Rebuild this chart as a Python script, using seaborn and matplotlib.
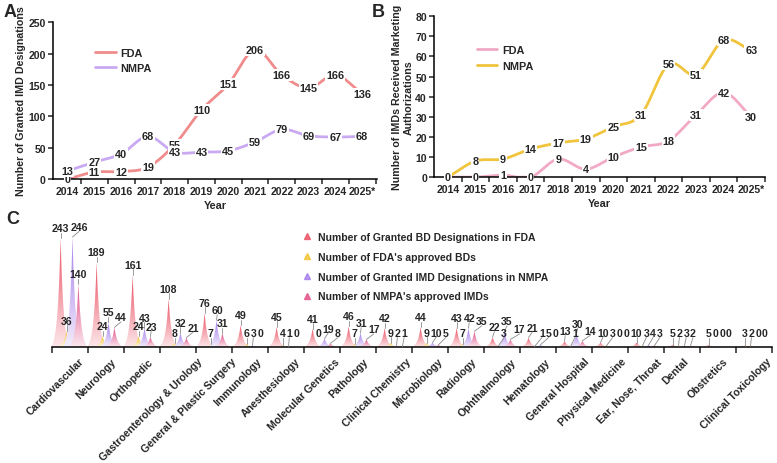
import numpy as np
import pandas as pd
import matplotlib
matplotlib.use('Agg')
import matplotlib.pyplot as plt
import seaborn as sns
from matplotlib.colors import LinearSegmentedColormap, to_rgb
from matplotlib.patches import Polygon
from matplotlib.lines import Line2D
from matplotlib.transforms import ScaledTranslation

# ---- data ----
years = ['2014', '2015', '2016', '2017', '2018', '2019', '2020', '2021',
         '2022', '2023', '2024', '2025*']
fda_designations = [0, 11, 12, 19, 55, 110, 151, 206, 166, 145, 166, 136]
nmpa_designations = [13, 27, 40, 68, 43, 43, 45, 59, 79, 69, 67, 68]
fda_approvals = [0, 0, 1, 0, 9, 4, 10, 15, 18, 31, 42, 30]
nmpa_approvals = [0, 8, 9, 14, 17, 19, 25, 31, 56, 51, 68, 63]

specialties = ['Cardiovascular', 'Neurology', 'Orthopedic', 'Gastroenterology & Urology',
               'General & Plastic Surgery', 'Immunology', 'Anesthesiology',
               'Molecular Genetics', 'Pathology', 'Clinical Chemistry', 'Microbiology',
               'Radiology', 'Ophthalmology', 'Hematology', 'General Hospital',
               'Physical Medicine', 'Ear, Nose, Throat', 'Dental', 'Obstretics',
               'Clinical Toxicology']
bd_fda = [243, 189, 161, 108, 76, 49, 45, 41, 46, 42, 44, 43, 22, 21, 13, 10, 10, 5, 5, 3]
bd_fda_approved = [36, 24, 24, 8, 7, 6, 4, 0, 7, 9, 9, 7, 3, 1, 1, 3, 3, 2, 0, 2]
imd_nmpa = [246, 55, 43, 32, 60, 3, 1, 19, 31, 2, 10, 42, 35, 5, 30, 0, 4, 3, 0, 0]
imd_nmpa_approved = [140, 44, 23, 21, 31, 0, 0, 8, 17, 1, 5, 35, 17, 0, 14, 0, 3, 2, 0, 0]

c_series = ["Number of Granted BD Designations in FDA", "Number of FDA's approved BDs",
            "Number of Granted IMD Designations in NMPA", "Number of NMPA's approved IMDs"]
c_colors = ['#EA4E60', '#F2C22E', '#A47CEA', '#E14E86']

sns.set_theme(style='ticks')
plt.rcParams['font.family'] = ['Liberation Sans', 'DejaVu Sans']
plt.rcParams['font.weight'] = 'bold'
plt.rcParams['axes.labelweight'] = 'bold'
plt.rcParams['font.size'] = 7.5
plt.rcParams['axes.linewidth'] = 1.1
plt.rcParams['axes.edgecolor'] = 'black'


def smooth_curve(vals, n=24):
    # cubic Hermite through the points, only for drawing a smooth line
    y = np.asarray(vals, float)
    m = np.gradient(y)
    t = np.linspace(0, 1, n, endpoint=False)
    h00, h10 = 2*t**3 - 3*t**2 + 1, t**3 - 2*t**2 + t
    h01, h11 = -2*t**3 + 3*t**2, t**3 - t**2
    xs, ys = [], []
    for i in range(len(y) - 1):
        xs.append(i + t)
        ys.append(h00*y[i] + h10*m[i] + h01*y[i+1] + h11*m[i+1])
    xs.append([len(y) - 1]); ys.append([y[-1]])
    return np.concatenate(xs), np.maximum(np.concatenate(ys), 0)


def line_panel(ax, series, names, colors, ymax, ystep, xlim, ylabel, leg_anchor):
    for vals, name, col in zip(series, names, colors):
        xs, ys = smooth_curve(vals)
        df = pd.DataFrame({'x': xs, 'y': ys})
        sns.lineplot(data=df, x='x', y='y', ax=ax, color=col, linewidth=2,
                     label=name, sort=False, zorder=2)
    for vals in series:
        for i, v in enumerate(vals):
            ax.text(i, v, str(v), ha='center', va='center', fontsize=7.8,
                    fontweight='bold', zorder=4, clip_on=False,
                    bbox=dict(fc='white', ec='none', pad=0.6))
    ax.set_xlim(*xlim)
    ax.set_ylim(0, ymax)
    ax.set_yticks(np.arange(0, ymax + 1, ystep))
    ax.set_xticks(np.arange(0.5, len(years), 1))
    ax.set_xticklabels([])
    ax.set_xticks(np.arange(len(years)), minor=True)
    ax.set_xticklabels(years, minor=True)
    ax.tick_params(axis='x', which='minor', length=0, pad=5, labelsize=7.6)
    ax.tick_params(axis='both', which='major', length=3.5, width=1.1,
                   direction='out', labelsize=7.6)
    ax.tick_params(axis='y', pad=1.5)
    ax.set_xlabel('Year', fontsize=7.8, labelpad=3)
    ax.set_ylabel(ylabel, fontsize=7.7, labelpad=1.5)
    sns.despine(ax=ax)
    ax.legend(loc='upper left', bbox_to_anchor=leg_anchor, frameon=False,
              handlelength=1.9, handletextpad=0.4, labelspacing=0.5, fontsize=7.8)


fig = plt.figure(figsize=(7.77, 4.64), dpi=100)

axA = fig.add_axes([0.068, 0.612, 0.417, 0.338])
line_panel(axA, [fda_designations, nmpa_designations], ['FDA', 'NMPA'],
           ['#F08C8C', '#C9AAF2'], 250, 50, (-0.55, 11.55),
           'Number of Granted IMD Designations', (0.1, 0.9))

axB = fig.add_axes([0.5586, 0.616, 0.426, 0.347])
line_panel(axB, [fda_approvals, nmpa_approvals], ['FDA', 'NMPA'],
           ['#F2A9C6', '#F0C43C'], 80, 10, (-0.5, 11.45),
           'Number of IMDs Received Marketing\nAuthorizations', (0.1, 0.88))

# ---- panel C ----
axC = fig.add_axes([0.0669, 0.25, 0.9266, 0.27])
c_values = [bd_fda, bd_fda_approved, imd_nmpa, imd_nmpa_approved]
half, w = 0.26, 0.085
grad = np.linspace(0, 1, 64).reshape(-1, 1)
for k, (vals, col) in enumerate(zip(c_values, c_colors)):
    light = tuple(0.86 + 0.14*c for c in to_rgb(col))
    cmap = LinearSegmentedColormap.from_list(f'g{k}', [light, col])
    for i, v in enumerate(vals):
        if v == 0:
            continue
        cx = i + 0.24 + 0.165*k
        xs = np.linspace(cx - half, cx + half, 121)
        e = np.exp(-np.abs(xs - cx)/w)
        shape = (e - np.exp(-half/w)) / (1 - np.exp(-half/w))
        patch = Polygon(np.column_stack([xs, v*shape]), closed=True,
                        fc='none', ec='none')
        axC.add_patch(patch)
        im = axC.imshow(grad, extent=[cx - half, cx + half, 0, v], origin='lower',
                        aspect='auto', cmap=cmap, zorder=2 + 0.1*k,
                        interpolation='bilinear')
        im.set_clip_path(patch)

# value labels, laid out in pixels to avoid collisions
PX_X, PX_Y = 36.0, 0.4475
placed = []
for i in range(len(specialties)):
    for k in range(4):
        v = c_values[k][i]
        px = (i + 0.24 + 0.165*k) * PX_X
        tip = v * PX_Y
        tw, th = 5.8*len(str(v)) + 0.5, 8.5
        lx, ly = px, max(tip + 10, 14)
        moved = True
        while moved:
            moved = False
            for ox, oy, ow in placed:
                if abs(ly - oy) < th and abs(lx - ox) < (tw + ow)/2:
                    lx = ox + (tw + ow)/2 + 0.5
                    moved = True
        placed.append((lx, ly, tw))
        axC.text(lx/PX_X, ly/PX_Y, str(v), ha='center', va='center', fontsize=7.6,
                 fontweight='bold', zorder=5, clip_on=False)
        if v > 0 and ((ly - 4.5 - tip) > 5 or abs(lx - px) > 5):
            axC.plot([px/PX_X, lx/PX_X], [tip/PX_Y, (ly - 4.5)/PX_Y], color='#8a8a8a',
                     lw=0.6, zorder=4, clip_on=False)

axC.set_xlim(0, len(specialties))
axC.set_ylim(0, 280)
axC.set_yticks([])
axC.set_xticks(np.arange(0, len(specialties) + 1))
axC.set_xticklabels([])
axC.set_xticks(np.arange(len(specialties)) + 0.5, minor=True)
axC.set_xticklabels(specialties, minor=True, rotation=45, ha='right',
                    rotation_mode='anchor', fontsize=7.6, fontweight='bold')
axC.tick_params(axis='x', which='minor', length=0, pad=6.5)
axC.tick_params(axis='x', which='major', length=4, width=1.1, direction='out')
sns.despine(ax=axC, left=True)

# longer labels sit further to the right in the reference
fig.canvas.draw()
for lab in axC.get_xticklabels(minor=True):
    wpx = lab.get_window_extent().width
    dx = (0.23*wpx - 5) / fig.dpi
    lab.set_transform(lab.get_transform() + ScaledTranslation(dx, 0, fig.dpi_scale_trans))

handles = [Line2D([], [], marker='^', color=c, linestyle='none', markersize=4.5, alpha=0.8)
           for c in c_colors]
axC.legend(handles, c_series, loc='upper left', bbox_to_anchor=(0.336, 0.995),
           frameon=False, handlelength=0.8, handletextpad=0.6, labelspacing=0.95,
           fontsize=7.5)

fig.text(0.004, 0.992, 'A', fontsize=13, fontweight='bold', va='top')
fig.text(0.478, 0.992, 'B', fontsize=13, fontweight='bold', va='top')
fig.text(0.008, 0.545, 'C', fontsize=13, fontweight='bold', va='top')

fig.savefig('out.png', dpi=100)
